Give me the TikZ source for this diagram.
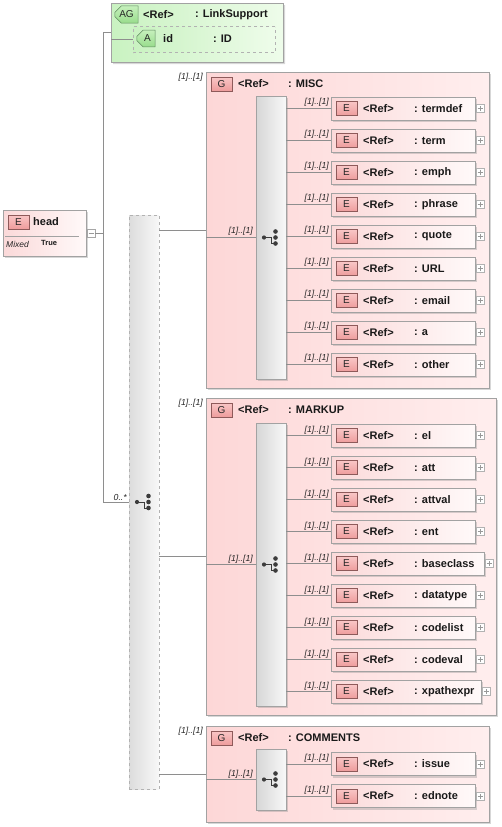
\documentclass[tikz,border=0pt]{standalone}
\usepackage{fontspec}
\setmainfont{Liberation Sans}
\usetikzlibrary{shapes.misc,shadows}
\definecolor{conncol}{HTML}{8E8E8E}
\definecolor{bordcol}{HTML}{A2A2A2}
\definecolor{elleft}{HTML}{FBD9D9}
\definecolor{elright}{HTML}{FFF9F9}
\definecolor{grpleft}{HTML}{FDD7D7}
\definecolor{grpright}{HTML}{FFEEEE}
\definecolor{badgetop}{HTML}{F9C6C6}
\definecolor{badgebot}{HTML}{EE9C9C}
\definecolor{badgebord}{HTML}{8E5A5A}
\definecolor{agleft}{HTML}{C9F2C1}
\definecolor{agright}{HTML}{EEFCEA}
\definecolor{gbadgetop}{HTML}{C6F0BC}
\definecolor{gbadgebot}{HTML}{98DC8C}
\definecolor{gbadgebord}{HTML}{5E8A5E}
\definecolor{colleft}{HTML}{D6D6D6}
\definecolor{colright}{HTML}{F8F8F8}
\definecolor{symcol}{HTML}{3C3C3C}
\newcommand\myelem[5]{%
  \node[elbox, minimum width=#4pt] (#1) at (331,#2) {};
  \node[ebadge] (#1b) at ([xshift=15.5pt]#1.west) {E};
  \node[reft] (#1r) at ([xshift=32pt]#1.west) {<Ref>};
  \node[reft] (#1n) at ([xshift=83pt]#1.west) {: #3};
  \node[plusbox] (#1p) at ([xshift=1pt]#1.east) {};
  \draw[plusline] ([xshift=-2.5pt]#1p.center) -- ([xshift=2.5pt]#1p.center)
                  ([yshift=-2.5pt]#1p.center) -- ([yshift=2.5pt]#1p.center);
  \draw[conn] (#5.east |- #1.west) -- (#1.west);
  \node[mult] (#1m) at ([xshift=-2pt,yshift=1.5pt]#1.west) {[1]..[1]};
}
\newcommand\mygroup[6]{%
  \node[grpbox, minimum width=#4pt, minimum height=#5pt] (#1) at (#2,#3) {};
  \node[ebadge] (#1b) at ([xshift=15.5pt,yshift=-12pt]#1.north west) {G};
  \node[reft] (#1r) at ([xshift=32pt,yshift=-12pt]#1.north west) {<Ref>};
  \node[reft] (#1n) at ([xshift=82pt,yshift=-12pt]#1.north west) {: #6};
  \node[mult, anchor=north east] (#1m) at ([xshift=-3pt,yshift=-1pt]#1.north west) {[1]..[1]};
}
\begin{document}
\begin{tikzpicture}[x=1pt,y=-1pt,
  conn/.style={draw=conncol, line width=0.7pt},
  shad/.style={drop shadow={shadow xshift=2pt, shadow yshift=-2pt, fill=black!45, opacity=0.35}},
  elbox/.style={draw=bordcol, line width=0.6pt, left color=elleft, right color=elright,
    minimum height=23pt, inner sep=0pt, outer sep=0pt, anchor=west, shad},
  grpbox/.style={draw=bordcol, line width=0.6pt, left color=grpleft, right color=grpright,
    inner sep=0pt, outer sep=0pt, anchor=north west, shad},
  ebadge/.style={draw=badgebord, line width=0.5pt, top color=badgetop, bottom color=badgebot,
    minimum width=21pt, minimum height=14pt, inner sep=0pt, font=\fontsize{10}{11}\selectfont, text=black!85},
  gbadge/.style={chamfered rectangle, chamfered rectangle corners={north west,south west},
    chamfered rectangle xsep=3pt, draw=gbadgebord, line width=0.5pt, top color=gbadgetop, bottom color=gbadgebot,
    minimum height=12pt, inner sep=1.5pt, font=\fontsize{10}{11}\selectfont, text=black!85},
  reft/.style={anchor=west, inner sep=0pt, font=\bfseries\fontsize{11}{12}\selectfont, text=black!90},
  mult/.style={anchor=south east, inner sep=0pt, font=\itshape\fontsize{8.7}{10}\selectfont, text=black!85},
  plusbox/.style={draw=black!30, fill=white, minimum size=8pt, inner sep=0pt, outer sep=0pt, anchor=west},
  plusline/.style={draw=black!40, line width=0.5pt},
  incol/.style={draw=bordcol, line width=0.6pt, left color=colleft, right color=colright,
    inner sep=0pt, outer sep=0pt, anchor=north west, minimum width=30pt, shad},
  choicesym/.pic={
    \draw[symcol, line width=1pt] (-7,0) -- (0,0) -- (0,6) -- (4.5,6);
    \fill[symcol] (-7,0) circle (2.1);
    \fill[symcol] (4.5,-6) circle (2.3);
    \fill[symcol] (4.5,0) circle (2.3);
    \fill[symcol] (4.5,6) circle (2.3);
  }]
\useasboundingbox (0,0) rectangle (502,827);

% ---------- head element ----------
\node[draw=bordcol, line width=0.6pt, left color=elleft, right color=elright, anchor=north west,
  minimum width=83pt, minimum height=46pt, inner sep=0pt, outer sep=0pt, shad] (head) at (3,210) {};
\node[ebadge] (headb) at (18.5,222) {E};
\node[reft] (headn) at (33,221.5) {head};
\coordinate (sepa) at (5,236);
\coordinate (sepb) at (79,236);
\draw[draw=bordcol, line width=0.6pt] (sepa) -- (sepb);
\node[anchor=west, inner sep=0pt, font=\itshape\fontsize{8.5}{9}\selectfont, text=black!85] (mixed) at (6,244) {Mixed};
\node[anchor=west, inner sep=0pt, font=\bfseries\fontsize{7.5}{9}\selectfont, text=black!90] (true) at (41,243) {True};
\node[draw=black!35, fill=white, minimum size=8pt, inner sep=0pt, outer sep=0pt, anchor=west] (minus) at ([xshift=1pt]head.east) {};
\draw[plusline] ([xshift=-2.5pt]minus.center) -- ([xshift=2.5pt]minus.center);

% ---------- attribute group ----------
\node[chamfered rectangle, chamfered rectangle corners={north west,south west,north east},
  chamfered rectangle xsep=7pt, chamfered rectangle ysep=7pt,
  draw=bordcol, line width=0.6pt, left color=agleft, right color=agright,
  minimum width=172pt, minimum height=59pt, inner sep=0pt, outer sep=0pt, shad] (ag) at (197,32.5) {};
\node[gbadge] (agb) at (126.5,14.5) {AG};
\node[reft] (agr) at (143,14.5) {<Ref>};
\node[reft] (agn) at (195,14.5) {: LinkSupport};
\node[chamfered rectangle, chamfered rectangle corners={north west,south west},
  chamfered rectangle xsep=6pt, chamfered rectangle ysep=6pt,
  draw=black!30, dashed, line width=0.7pt, left color=agleft, right color=agright,
  minimum width=142pt, minimum height=26pt, inner sep=0pt, outer sep=0pt] (abox) at (204,39.5) {};
\node[gbadge] (ab) at (146,38.5) {\ A\ };
\node[reft] (abn) at (163,38.5) {id};
\node[reft] (abt) at (213,38.5) {: ID};
\draw[conn] (abox.west -| ag.west) -- (abox.west);

% ---------- outer sequence column ----------
\node[draw=black!30, dashed, line width=0.8pt, left color=colleft!85!white, right color=colright,
  inner sep=0pt, outer sep=0pt, anchor=north west, minimum width=30pt, minimum height=574pt] (seqc) at (129,215) {};
\pic at (seqc.center) {choicesym};
\coordinate (jx) at (103,233);
\draw[conn] (minus.east) -- (jx);
\draw[conn] (ag.west) -- (ag.west -| jx) -- (jx |- seqc.west) -- (seqc.west);
\node[mult] (zm) at ([xshift=-2pt,yshift=1.5pt]seqc.west) {0..*};

% ---------- MISC ----------
\mygroup{misc}{206}{72}{283}{316}{MISC}
\node[incol, minimum height=283pt] (miscc) at (256,96) {};
\pic at (miscc.center) {choicesym};
\draw[conn] (seqc.east |- misc.west) -- (misc.west);
\draw[conn] (misc.west |- miscc.west) -- (miscc.west);
\node[mult] (miscm) at ([xshift=-3pt,yshift=1.5pt]miscc.west) {[1]..[1]};
\myelem{e1}{108.5}{termdef}{144}{miscc}
\myelem{e2}{140.5}{term}{144}{miscc}
\myelem{e3}{172.5}{emph}{144}{miscc}
\myelem{e4}{204.5}{phrase}{144}{miscc}
\myelem{e5}{236.5}{quote}{144}{miscc}
\myelem{e6}{268.5}{URL}{144}{miscc}
\myelem{e7}{300.5}{email}{144}{miscc}
\myelem{e8}{332.5}{a}{144}{miscc}
\myelem{e9}{364.5}{other}{144}{miscc}

% ---------- MARKUP ----------
\mygroup{markup}{206}{398}{290}{317}{MARKUP}
\node[incol, minimum height=283pt] (markc) at (256,423) {};
\pic at (markc.center) {choicesym};
\draw[conn] (seqc.east |- markup.west) -- (markup.west);
\draw[conn] (markup.west |- markc.west) -- (markc.west);
\node[mult] (markm) at ([xshift=-3pt,yshift=1.5pt]markc.west) {[1]..[1]};
\myelem{m1}{435.5}{el}{144}{markc}
\myelem{m2}{467.5}{att}{144}{markc}
\myelem{m3}{499.5}{attval}{144}{markc}
\myelem{m4}{531.5}{ent}{144}{markc}
\myelem{m5}{563.5}{baseclass}{153}{markc}
\myelem{m6}{595.5}{datatype}{144}{markc}
\myelem{m7}{627.5}{codelist}{144}{markc}
\myelem{m8}{659.5}{codeval}{144}{markc}
\myelem{m9}{691.5}{xpathexpr}{150}{markc}

% ---------- COMMENTS ----------
\mygroup{comm}{206}{726}{283}{96}{COMMENTS}
\node[incol, minimum height=61pt] (commc) at (256,749) {};
\pic at (commc.center) {choicesym};
\draw[conn] (seqc.east |- comm.west) -- (comm.west);
\draw[conn] (comm.west |- commc.west) -- (commc.west);
\node[mult] (commm) at ([xshift=-3pt,yshift=1.5pt]commc.west) {[1]..[1]};
\myelem{c1}{764}{issue}{144}{commc}
\myelem{c2}{796}{ednote}{144}{commc}
\end{tikzpicture}
\end{document}
